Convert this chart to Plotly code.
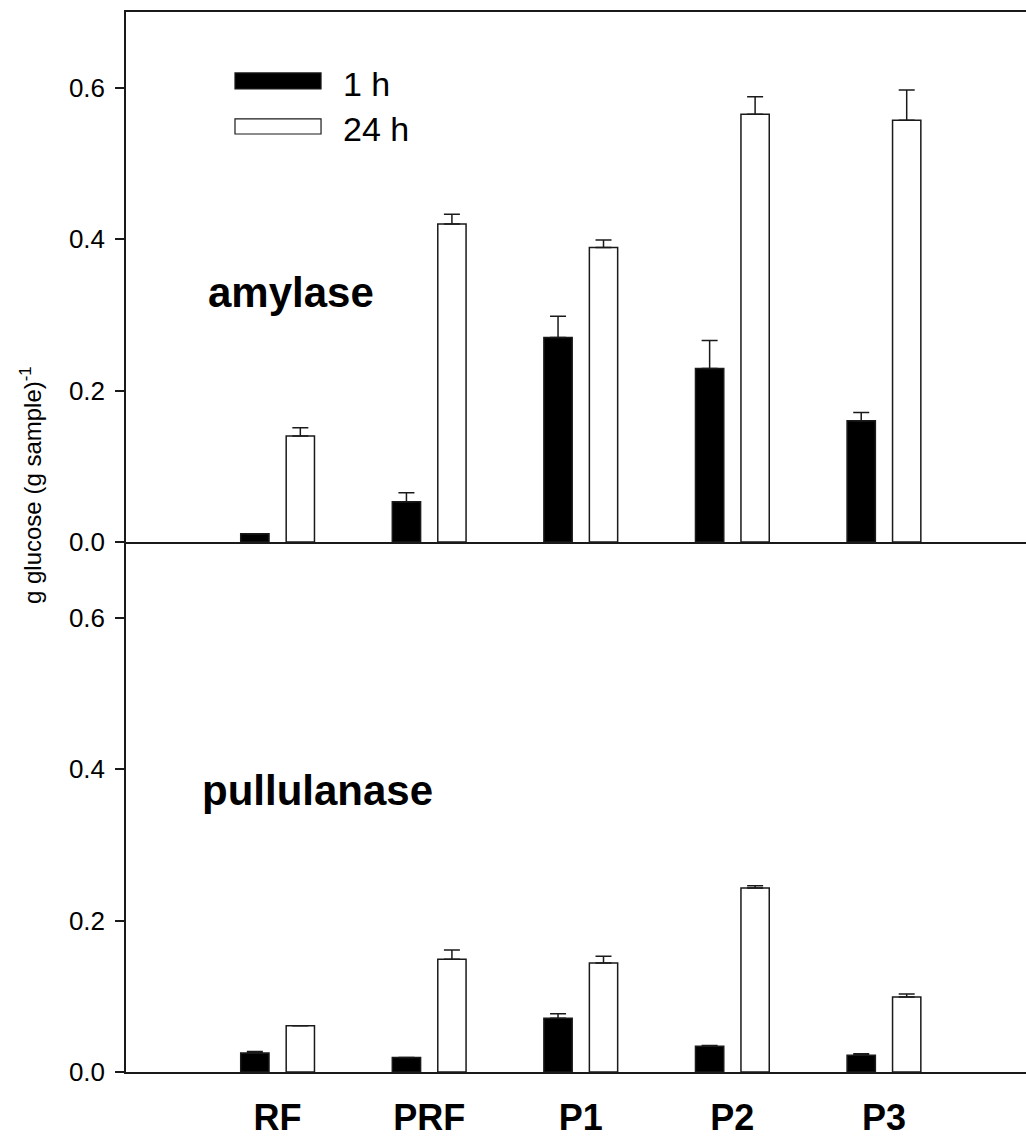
import plotly.graph_objects as go

categories = ["RF", "PRF", "P1", "P2", "P3"]

# amylase (top panel)
amy_1h = [0.011, 0.053, 0.270, 0.229, 0.160]
amy_1h_err = [0.0, 0.012, 0.028, 0.037, 0.011]
amy_24h = [0.140, 0.420, 0.389, 0.565, 0.557]
amy_24h_err = [0.011, 0.013, 0.010, 0.023, 0.040]

# pullulanase (bottom panel)
pul_1h = [0.025, 0.019, 0.071, 0.034, 0.022]
pul_1h_err = [0.002, 0.0, 0.006, 0.001, 0.002]
pul_24h = [0.061, 0.149, 0.144, 0.243, 0.099]
pul_24h_err = [0.0, 0.012, 0.009, 0.003, 0.004]

series_names = ["1 h", "24 h"]
y_ticks = [0.0, 0.2, 0.4, 0.6]
y_tick_text = ["0.0", "0.2", "0.4", "0.6"]

FONT = "Arial, Liberation Sans, sans-serif"
EDGE = "#1a1a1a"


def err(vals):
    return dict(type="data", symmetric=False, array=vals,
                arrayminus=[0] * len(vals), thickness=1.5, width=8,
                color=EDGE, visible=True)


fig = go.Figure()
panels = [
    ("x2", "y2", amy_1h, amy_1h_err, amy_24h, amy_24h_err),
    ("x", "y", pul_1h, pul_1h_err, pul_24h, pul_24h_err),
]
for xa, ya, v1, e1, v24, e24 in panels:
    fig.add_trace(go.Bar(x=categories, y=v1, name=series_names[0],
                         marker=dict(color="black", line=dict(color=EDGE, width=1.5)),
                         error_y=err(e1), xaxis=xa, yaxis=ya, showlegend=False))
    fig.add_trace(go.Bar(x=categories, y=v24, name=series_names[1],
                         marker=dict(color="white", line=dict(color=EDGE, width=1.5)),
                         error_y=err(e24), xaxis=xa, yaxis=ya, showlegend=False))

yaxis_common = dict(range=[0, 0.7], tickvals=y_ticks, ticktext=y_tick_text,
                    ticks="outside", ticklen=9, tickwidth=1.5, tickcolor=EDGE,
                    showline=True, linecolor=EDGE, linewidth=1.5,
                    showgrid=False, zeroline=False, ticklabelstandoff=5,
                    tickfont=dict(family=FONT, size=26, color="black"))

fig.update_layout(
    width=1026, height=1137,
    margin=dict(l=126, r=0, t=12, b=65),
    paper_bgcolor="white", plot_bgcolor="white",
    barmode="group", bargap=0.4, bargroupgap=0.378,
    xaxis=dict(domain=[0, 1], anchor="y", type="category",
               categoryorder="array", categoryarray=categories,
               range=[-1, 4.937], showline=True, linecolor=EDGE, linewidth=1.5,
               ticks="", showgrid=False, zeroline=False,
               tickfont=dict(family=FONT, size=36, color="black"),
               tickprefix="<b>", ticksuffix="</b>", ticklabelstandoff=13),
    xaxis2=dict(domain=[0, 1], anchor="y2", type="category",
                categoryorder="array", categoryarray=categories,
                range=[-1, 4.937], showline=True, mirror=True,
                linecolor=EDGE, linewidth=1.5, ticks="",
                showticklabels=False, showgrid=False, zeroline=False),
    yaxis=dict(domain=[0, 0.5], anchor="x", **yaxis_common),
    yaxis2=dict(domain=[0.5, 1], anchor="x2", **yaxis_common),
)

# Panel labels
fig.add_annotation(text="<b>amylase</b>", xref="paper", yref="paper",
                   x=0.0889, y=0.7358, xanchor="left", yanchor="middle",
                   showarrow=False, font=dict(family=FONT, size=42, color="black"))
fig.add_annotation(text="<b>pullulanase</b>", xref="paper", yref="paper",
                   x=0.0822, y=0.266, xanchor="left", yanchor="middle",
                   showarrow=False, font=dict(family=FONT, size=42, color="black"))

# Y-axis title
fig.add_annotation(text="g glucose (g sample)<sup>-1</sup>", xref="paper", yref="paper",
                   x=-0.1055, y=0.5538, xanchor="center", yanchor="middle",
                   textangle=-90, showarrow=False,
                   font=dict(family=FONT, size=24, color="black"))

# Legend (drawn manually with wide swatches)
legend_items = [("black", series_names[0], 0.9425, 0.9274, 0.9325),
                ("white", series_names[1], 0.8991, 0.8849, 0.8892)]
for fill, label, y0, y1, yt in legend_items:
    fig.add_shape(type="rect", xref="paper", yref="paper",
                  x0=0.1211, x1=0.2167, y0=y1, y1=y0,
                  fillcolor=fill, line=dict(color=EDGE, width=1.2))
    fig.add_annotation(text=label, xref="paper", yref="paper",
                       x=0.2389, y=yt, xanchor="left", yanchor="middle",
                       showarrow=False, font=dict(family=FONT, size=34, color="black"))

fig.write_html("out.html")
